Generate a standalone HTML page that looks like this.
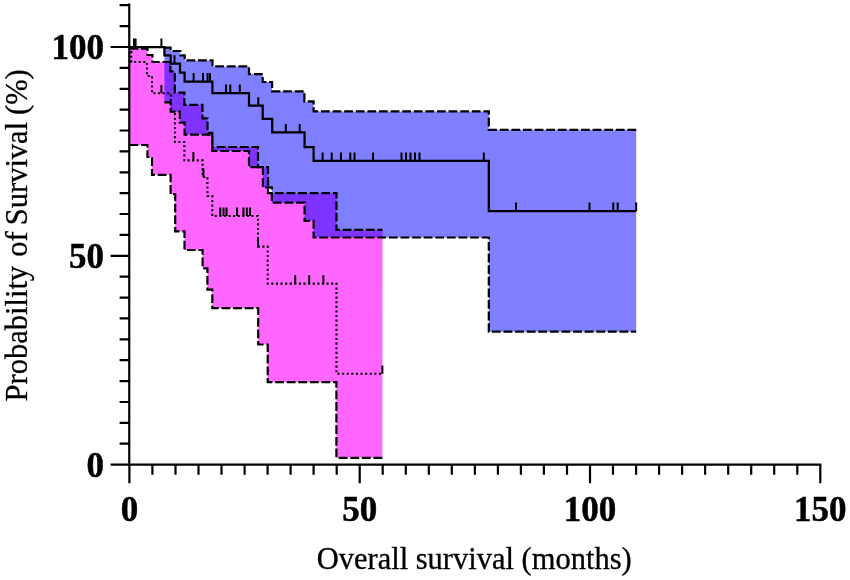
<!DOCTYPE html>
<html><head><meta charset="utf-8"><title>Survival</title>
<style>
html,body{margin:0;padding:0;background:#fff;}
body{width:850px;height:580px;overflow:hidden;position:relative;font-family:"Liberation Serif",serif;}
svg{position:absolute;left:0;top:0;will-change:transform;}
text{font-family:"Liberation Serif",serif;fill:#000;}
.b{font-weight:bold;font-size:35px;stroke:#000;stroke-width:0.5px;}
.l{font-size:30.5px;stroke:#000;stroke-width:0.3px;}
</style></head><body>
<svg width="850" height="580" viewBox="0 0 850 580">
<rect width="850" height="580" fill="#fff"/>
<path d="M129.5,48.6 L147.5,48.6 L147.5,55 L152.5,55 L152.5,62 L170.4,62 L170.4,71.4 L174.8,71.4 L174.8,92.6 L184.4,92.6 L184.4,104.8 L202.5,104.8 L202.5,118.3 L207.5,118.3 L207.5,132.8 L212.3,132.8 L212.3,147 L258,147 L258,167.2 L268,167.2 L268,193.2 L336.5,193.2 L336.5,229.8 L382.5,229.8 L382.4,457.8 L336.4,457.8 L336.4,382.2 L267.7,382.2 L267.7,344.5 L258.2,344.5 L258.2,308.2 L212.3,308.2 L212.3,289.6 L207.4,289.6 L207.4,268.4 L202.6,268.4 L202.6,250 L184.5,250 L184.5,231.4 L175.2,231.4 L175.2,194.2 L170.6,194.2 L170.6,174.8 L152,174.8 L152,157 L147.4,157 L147.4,145 L129.5,145 Z" fill="#ff66ff"/>
<path d="M164.4,47.6 L170.6,47.6 L170.6,51 L180.3,51 L180.3,55.4 L184.7,55.4 L184.7,60.4 L212.5,60.4 L212.5,66.4 L249,66.4 L249,74.1 L262.7,74.1 L262.7,82 L272.1,82 L272.1,91.3 L304.4,91.3 L304.4,101.4 L313.6,101.4 L313.6,111.4 L488.8,111.4 L488.8,129.8 L636.2,129.8 L636.2,331.7 L488.8,331.7 L488.8,237.5 L313.6,237.5 L313.6,220.8 L304.6,220.8 L304.6,202.7 L271.8,202.7 L271.8,187.4 L262.9,187.4 L262.9,167.2 L249,167.2 L249,151 L212.3,151 L212.3,134.6 L184.6,134.6 L184.6,122.6 L179.8,122.6 L179.8,111.7 L170.7,111.7 L170.7,102.4 L164.4,102.4 Z" fill="rgba(0,0,255,0.5)"/>
<g fill="none" stroke="#000" stroke-width="2.2" stroke-dasharray="8.8 2.8">
<path d="M129.5,48.6 H147.5 V55 H152.5 V62 H170.4 V71.4 H174.8 V92.6 H184.4 V104.8 H202.5 V118.3 H207.5 V132.8 H212.3 V147 H258 V167.2 H268 V193.2 H336.5 V229.8 H382.5"/>
<path d="M129.5,145 H147.4 V157 H152 V174.8 H170.6 V194.2 H175.2 V231.4 H184.5 V250 H202.6 V268.4 H207.4 V289.6 H212.3 V308.2 H258.2 V344.5 H267.7 V382.2 H336.4 V457.8 H382.4"/>
<path d="M164.4,47.6 H170.6 V51 H180.3 V55.4 H184.7 V60.4 H212.5 V66.4 H249 V74.1 H262.7 V82 H272.1 V91.3 H304.4 V101.4 H313.6 V111.4 H488.8 V129.8 H636.2"/>
<path d="M164.4,102.4 H170.7 V111.7 H179.8 V122.6 H184.6 V134.6 H212.3 V151 H249 V167.2 H262.9 V187.4 H271.8 V202.7 H304.6 V220.8 H313.6 V237.5 H488.8 V331.7 H636.2"/>
</g>
<path d="M129.5,62 H147 V76 H152 V93.3 H170.8 V112 H175 V142 H184.4 V160.4 H202.6 V177 H207.4 V196 H212.3 V216 H258 V246.6 H267.7 V283.6 H336.5 V373.8 H382.4" fill="none" stroke="#000" stroke-width="2.1" stroke-dasharray="2.1 2.5"/>
<path d="M131.3,46.5 V62" fill="none" stroke="#000" stroke-width="2.1" stroke-dasharray="2.1 2.5"/>
<path d="M161.4,93.3 v-8.4 M193.4,160.4 v-8.4 M203.4,177 v-8.4 M220.2,216 v-8.4 M223.5,216 v-8.4 M226.5,216 v-8.4 M237,216 v-8.4 M243.4,216 v-8.4 M246.8,216 v-8.4 M250,216 v-8.4 M258.0,246.6 v-8.4 M295.2,283.6 v-8.4 M309.2,283.6 v-8.4 M323.4,283.6 v-8.4 M382.4,373.8 v-8.4 " fill="none" stroke="#000" stroke-width="2.0"/>
<path d="M129.5,47.0 H164.4 V55.3 H170.6 V63.6 H180 V72.7 H184.6 V81.5 H212.4 V93 H249 V105.6 H262.7 V118.9 H272.2 V132.3 H304.6 V147 H313.6 V160.8 H488.8 V211 H636.2" fill="none" stroke="#000" stroke-width="2.25" stroke-linejoin="miter"/>
<path d="M134,47.0 v-8.4 M135.6,47.0 v-8.4 M161.4,47.0 v-8.4 M174.5,63.6 v-8.4 M193.6,81.5 v-8.4 M203,81.5 v-8.4 M207.6,81.5 v-8.4 M210,81.5 v-8.4 M226,93 v-8.4 M230.3,93 v-8.4 M239.8,93 v-8.4 M258.3,105.6 v-8.4 M285.8,132.3 v-8.4 M299.7,132.3 v-8.4 M322.6,160.8 v-8.4 M331.7,160.8 v-8.4 M341,160.8 v-8.4 M350.3,160.8 v-8.4 M354.5,160.8 v-8.4 M373.1,160.8 v-8.4 M401.5,160.8 v-8.4 M406,160.8 v-8.4 M410.5,160.8 v-8.4 M415,160.8 v-8.4 M419.5,160.8 v-8.4 M483.8,160.8 v-8.4 M516,211 v-8.4 M589.5,211 v-8.4 M613.3,211 v-8.4 M617.7,211 v-8.4 M636.2,211 v-8.4 " fill="none" stroke="#000" stroke-width="2.0"/>
<g fill="none" stroke="#000" stroke-width="2.2"><path d="M129.25,3.6 V465.6" /><path d="M110.6,464.6 H821.3" /><path d="M119.6,443.7 H129.4 M119.6,422.8 H129.4 M119.6,402.0 H129.4 M119.6,381.1 H129.4 M119.6,360.2 H129.4 M119.6,339.3 H129.4 M119.6,318.4 H129.4 M119.6,297.6 H129.4 M119.6,276.7 H129.4 M110.6,255.8 H129.4 M119.6,234.9 H129.4 M119.6,214.0 H129.4 M119.6,193.2 H129.4 M119.6,172.3 H129.4 M119.6,151.4 H129.4 M119.6,130.5 H129.4 M119.6,109.6 H129.4 M119.6,88.8 H129.4 M119.6,67.9 H129.4 M110.6,47.0 H129.4 M119.6,26.1 H129.4 M119.6,5.2 H129.4 M129.4,464.6 V483.2 M152.4,464.6 V474.8 M175.5,464.6 V474.8 M198.5,464.6 V474.8 M221.5,464.6 V474.8 M244.6,464.6 V474.8 M267.6,464.6 V474.8 M290.6,464.6 V474.8 M313.6,464.6 V474.8 M336.7,464.6 V474.8 M359.7,464.6 V483.2 M382.7,464.6 V474.8 M405.8,464.6 V474.8 M428.8,464.6 V474.8 M451.8,464.6 V474.8 M474.9,464.6 V474.8 M497.9,464.6 V474.8 M520.9,464.6 V474.8 M543.9,464.6 V474.8 M567.0,464.6 V474.8 M590.0,464.6 V483.2 M613.0,464.6 V474.8 M636.1,464.6 V474.8 M659.1,464.6 V474.8 M682.1,464.6 V474.8 M705.1,464.6 V474.8 M728.2,464.6 V474.8 M751.2,464.6 V474.8 M774.2,464.6 V474.8 M797.3,464.6 V474.8 M820.3,464.6 V483.2 " /></g>
<text class="b" transform="translate(104,59.4) scale(1,1.005)" text-anchor="end">100</text>
<text class="b" transform="translate(104,268.4) scale(1,1.005)" text-anchor="end">50</text>
<text class="b" transform="translate(104,477.2) scale(1,1.005)" text-anchor="end">0</text>
<text class="b" transform="translate(129.4,521) scale(1,1.005)" text-anchor="middle">0</text>
<text class="b" transform="translate(359.7,521) scale(1,1.005)" text-anchor="middle">50</text>
<text class="b" transform="translate(590.0,521) scale(1,1.005)" text-anchor="middle">100</text>
<text class="b" transform="translate(820.3,521) scale(1,1.005)" text-anchor="middle">150</text>
<text class="l" transform="translate(474.2,568.8) scale(1,1.04)" text-anchor="middle">Overall survival (months)</text>
<text class="l" transform="translate(26.5,401.4) rotate(-90) scale(1,1.02)">Probability</text>
<text class="l" transform="translate(26.5,256.7) rotate(-90) scale(1,1.02)">of</text>
<text class="l" transform="translate(26.5,225.2) rotate(-90) scale(1,1.02)">Survival</text>
<text class="l" transform="translate(26.5,115.0) rotate(-90) scale(1,1.02)">(%)</text>
</svg>
</body></html>
